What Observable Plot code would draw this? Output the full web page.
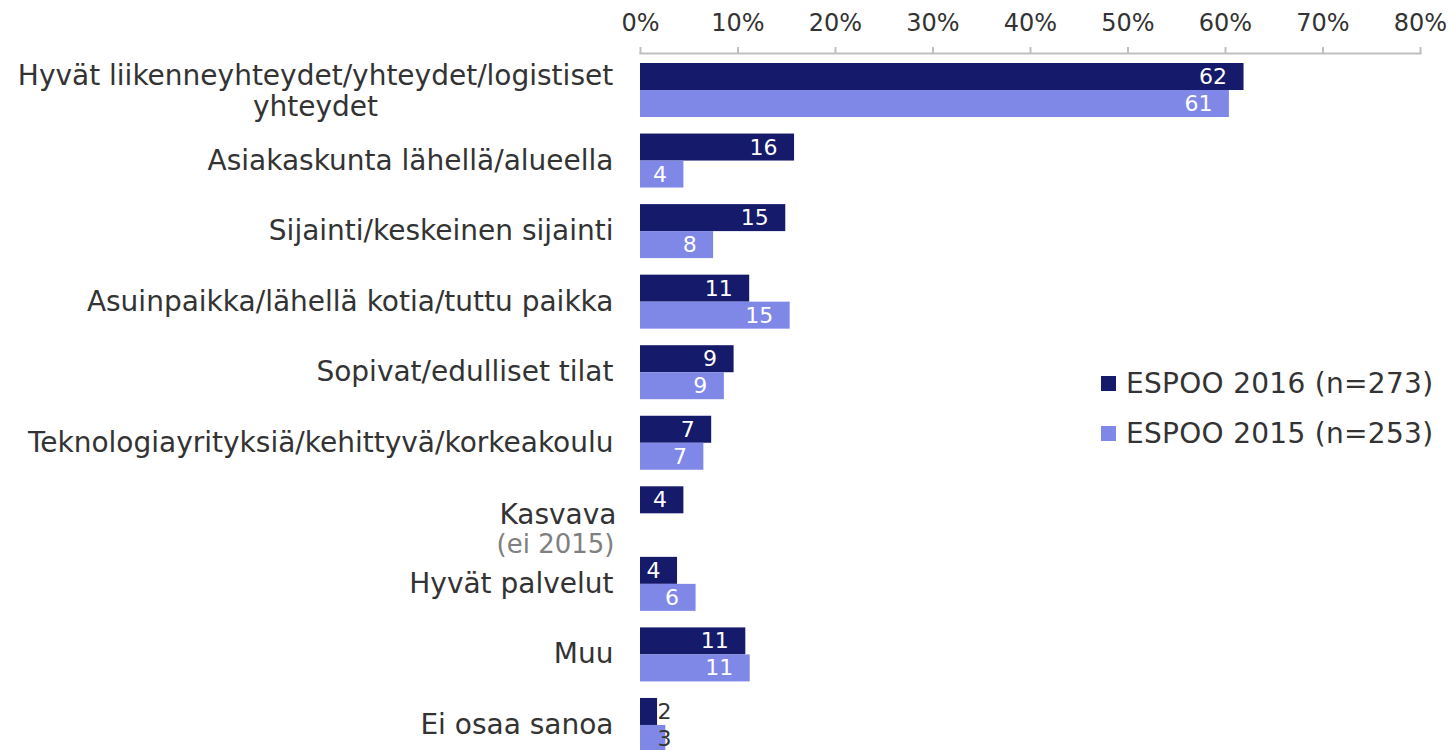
<!DOCTYPE html>
<html>
<head>
<meta charset="utf-8">
<script src="https://cdn.jsdelivr.net/npm/d3@7"></script>
<script src="https://cdn.jsdelivr.net/npm/@observablehq/plot@0.6"></script>
<style>
  html, body { margin: 0; padding: 0; background: #fff; overflow: hidden; }
  #wrap { position: relative; width: 1450px; height: 750px; font-family: "DejaVu Sans", Verdana, sans-serif; }
  #legend { position: absolute; left: 1101px; top: 358px; color: #333; font-size: 28px; letter-spacing: 0.3px; }
  .item { display: flex; align-items: center; height: 50px; }
  .sw { width: 15px; height: 15px; margin-right: 10px; }
</style>
</head>
<body>
<div id="wrap"><div id="chart"></div><div id="legend"></div></div>
<script>
const categories = [
  "Hyvät liikenneyhteydet/yhteydet/logistiset\nyhteydet",
  "Asiakaskunta lähellä/alueella",
  "Sijainti/keskeinen sijainti",
  "Asuinpaikka/lähellä kotia/tuttu paikka",
  "Sopivat/edulliset tilat",
  "Teknologiayrityksiä/kehittyvä/korkeakoulu",
  "Kasvava",
  "Hyvät palvelut",
  "Muu",
  "Ei osaa sanoa"
];
const noteKasvava = "(ei 2015)";
const seriesNames = ["ESPOO 2016 (n=273)", "ESPOO 2015 (n=253)"];
const seriesKeys = ["2016", "2015"];
const values2016 = [61.9, 15.8, 14.9, 11.2, 9.6, 7.3, 4.45, 3.8, 10.8, 1.75];
const values2015 = [60.4, 4.45, 7.5, 15.35, 8.6, 6.5, null, 5.7, 11.25, 2.6];
const labels2016 = [62, 16, 15, 11, 9, 7, 4, 4, 11, 2];
const labels2015 = [61, 4, 8, 15, 9, 7, null, 6, 11, 3];
const xTicks = [0, 10, 20, 30, 40, 50, 60, 70, 80];
const colors = ["#151a6a", "#7f87e7"];

const rows = [];
categories.forEach((c, i) => {
  if (values2016[i] != null) rows.push({cat: c, series: "2016", value: values2016[i], label: labels2016[i]});
  if (values2015[i] != null) rows.push({cat: c, series: "2015", value: values2015[i], label: labels2015[i]});
});
const small = d => d.value < 3;

const longCat = categories[0];
const kasvava = categories[6];
const normalCats = categories.filter(c => c !== longCat && c !== kasvava);

const chart = Plot.plot({
  width: 1450,
  height: 752,
  marginLeft: 640,
  marginRight: 30,
  marginTop: 62,
  marginBottom: 0,
  style: {fontFamily: "DejaVu Sans, Verdana, sans-serif", color: "#333"},
  x: {domain: [0, 80], axis: null},
  y: {domain: seriesKeys, padding: 0, axis: null},
  fy: {domain: categories, paddingInner: 15.5 / 70.5, paddingOuter: 0, round: false, axis: null},
  color: {domain: seriesKeys, range: colors},
  marks: [
    Plot.frame({anchor: "top", facetAnchor: "top", dy: -9, stroke: "#bfbfbf", strokeWidth: 2}),
    Plot.axisX({anchor: "top", label: null, ticks: xTicks, tickFormat: d => d + "%", tickSize: 7, tickPadding: 16, dy: -9, fontSize: 24, stroke: "#bfbfbf", strokeWidth: 2, fill: "#333"}),
    Plot.barX(rows, {fy: "cat", y: "series", x: "value", fill: "series"}),
    Plot.text(rows.filter(d => !small(d)), {fy: "cat", y: "series", x: "value", text: "label", textAnchor: "end", dx: -17, fill: "white", fontSize: 22}),
    Plot.text(rows.filter(small), {fy: "cat", y: "series", x: 0, text: "label", textAnchor: "start", dx: 17, fill: "#333", fontSize: 22}),
    Plot.text(normalCats, {fy: d => d, text: d => d, frameAnchor: "left", textAnchor: "end", dx: -27, fontSize: 28, fill: "#333"}),
    Plot.text([longCat], {fy: d => d, text: d => d, frameAnchor: "left", textAnchor: "middle", dx: -325, dy: 1, lineHeight: 1.1, fontSize: 28, fill: "#333"}),
    Plot.text([kasvava], {fy: d => d, text: d => d, frameAnchor: "left", textAnchor: "end", dx: -24, dy: 2, fontSize: 28, fill: "#333"}),
    Plot.text([kasvava], {fy: d => d, text: () => noteKasvava, frameAnchor: "left", textAnchor: "end", dx: -26, dy: 31, fontSize: 26, fill: "#808080"})
  ]
});
document.getElementById("chart").appendChild(chart);

const legend = document.getElementById("legend");
seriesNames.forEach((name, i) => {
  const item = document.createElement("div");
  item.className = "item";
  const sw = document.createElement("div");
  sw.className = "sw";
  sw.style.background = colors[i];
  const t = document.createElement("span");
  t.textContent = name;
  item.appendChild(sw);
  item.appendChild(t);
  legend.appendChild(item);
});
</script>
</body>
</html>
